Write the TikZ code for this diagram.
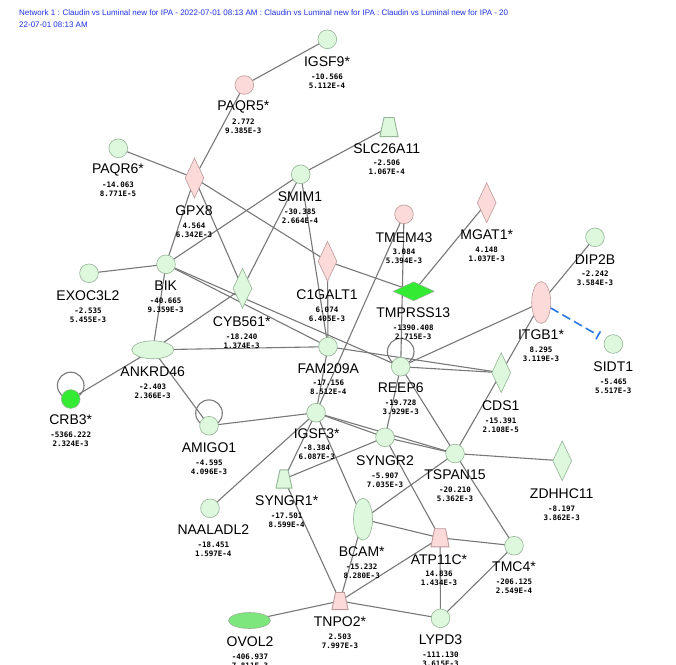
\documentclass[tikz,border=0pt]{standalone}
\usepackage{fontspec}
\setmainfont{Liberation Sans}
\newfontfamily\valfont{DejaVu Sans Mono}
\usetikzlibrary{shapes.geometric,arrows.meta}
\pgfdeclarelayer{bg}
\pgfdeclarelayer{paper}
\pgfsetlayers{paper,bg,main}
\definecolor{lg}{RGB}{222,248,222}
\definecolor{lgb}{RGB}{150,180,150}
\definecolor{pk}{RGB}{252,218,218}
\definecolor{pkb}{RGB}{190,155,155}
\definecolor{brg}{RGB}{50,235,50}
\definecolor{mdg}{RGB}{125,230,125}
\definecolor{edgec}{RGB}{120,120,120}
\definecolor{titleblue}{RGB}{30,50,230}
\definecolor{dashblue}{RGB}{40,120,230}
\begin{document}
\begin{tikzpicture}[x=1pt,y=-1pt,
  nd/.style={inner sep=0pt,line width=0.6pt},
  gfill/.style={nd,draw=lgb,fill=lg},
  pfill/.style={nd,draw=pkb,fill=pk},
  gc/.style={gfill,circle,minimum size=18.7pt},
  pc/.style={pfill,circle,minimum size=18.7pt},
  dia/.style={diamond,minimum width=19pt,minimum height=40pt},
  hdia/.style={diamond,minimum width=41pt,minimum height=19pt},
  vell/.style={ellipse,minimum width=19pt,minimum height=42pt},
  hell/.style={ellipse,minimum width=42pt,minimum height=18pt},
  trapbox/.style={rectangle,inner sep=0pt,minimum width=19pt,minimum height=19pt},
  gtrap/.style={trapbox,path picture={\filldraw[draw=lgb,fill=lg,line width=0.9pt]
     ([xshift=4.5pt,yshift=-0.4pt]path picture bounding box.north west) --
     ([xshift=-4.5pt,yshift=-0.4pt]path picture bounding box.north east) --
     ([xshift=-0.4pt,yshift=0.4pt]path picture bounding box.south east) --
     ([xshift=0.4pt,yshift=0.4pt]path picture bounding box.south west) -- cycle;}},
  ptrap/.style={trapbox,path picture={\filldraw[draw=pkb,fill=pk,line width=0.9pt]
     ([xshift=4pt,yshift=-0.4pt]path picture bounding box.north west) --
     ([xshift=-4pt,yshift=-0.4pt]path picture bounding box.north east) --
     ([xshift=-0.4pt,yshift=0.4pt]path picture bounding box.south east) --
     ([xshift=0.4pt,yshift=0.4pt]path picture bounding box.south west) -- cycle;}},
  lab/.style={inner sep=0pt,font=\fontsize{14}{14}\selectfont},
  val/.style={inner sep=0pt,font=\valfont\bfseries\fontsize{7.5}{7.5}\selectfont},
  e/.style={draw=edgec,line width=1.1pt},
  loopc/.style={draw=edgec,line width=1.1pt}]
\useasboundingbox (0,0) rectangle (676,664);
\begin{pgfonlayer}{paper}
\fill[white] (0,0) rectangle (676,664);
\end{pgfonlayer}
% title
\node[anchor=base west,inner sep=0pt,text=titleblue,font=\fontsize{8}{8}\selectfont] (title1) at (19,15) {Network 1 : Claudin vs Luminal new for IPA - 2022-07-01 08:13 AM : Claudin vs Luminal new for IPA : Claudin vs Luminal new for IPA - 20};
\node[anchor=base west,inner sep=0pt,text=titleblue,font=\fontsize{8}{8}\selectfont] (title2) at (19,27.5) {22-07-01 08:13 AM};
% nodes
\node[gc] (IGSF9) at (327.3,39.3) {};
\node[pc] (PAQR5) at (244.3,85) {};
\node[gtrap,minimum width=19pt,minimum height=20pt] (SLC26A11) at (389,127) {};
\node[gc] (PAQR6) at (118.3,148.3) {};
\node[pfill,dia] (GPX8) at (194.5,178) {};
\node[gc] (SMIM1) at (300.7,174.3) {};
\node[pc] (TMEM43) at (404,214.3) {};
\node[pfill,dia] (MGAT1) at (486.7,202.7) {};
\node[gc] (DIP2B) at (595,237.3) {};
\node[gc] (BIK) at (166,264.3) {};
\node[gc] (EXOC3L2) at (89,273.3) {};
\node[gfill,dia] (CYB561) at (242.5,288.3) {};
\node[pfill,dia] (C1GALT1) at (327.5,261.3) {};
\node[nd,draw=lgb,fill=brg,hdia] (TMPRSS13) at (413.7,291.3) {};
\node[pfill,vell] (ITGB1) at (541.2,302.5) {};
\node[gc] (SIDT1) at (613.3,344) {};
\node[gfill,hell] (ANKRD46) at (152.8,349.8) {};
\node[gc] (FAM209A) at (328,346.7) {};
\node[gc] (REEP6) at (400.7,366.7) {};
\node[gfill,dia] (CDS1) at (501.2,372.7) {};
\node[nd,draw=lgb,fill=brg,circle,minimum size=18.7pt] (CRB3) at (70.7,399) {};
\node[gc] (AMIGO1) at (209,425.7) {};
\node[gc] (IGSF3) at (316,412.7) {};
\node[gc] (SYNGR2) at (385,437.3) {};
\node[gc] (TSPAN15) at (455,453.5) {};
\node[gfill,dia] (ZDHHC11) at (562.2,460.8) {};
\node[gtrap,minimum width=17pt,minimum height=19pt] (SYNGR1) at (284,479) {};
\node[gc] (NAALADL2) at (210,508.3) {};
\node[gfill,vell] (BCAM) at (363,519.2) {};
\node[ptrap] (ATP11C) at (440,537.8) {};
\node[gc] (TMC4) at (514,545.7) {};
\node[ptrap,minimum width=17pt,minimum height=18pt] (TNPO2) at (340,601) {};
\node[nd,draw=lgb,fill=mdg,ellipse,minimum width=42pt,minimum height=16pt] (OVOL2) at (249.5,620.5) {};
\node[gc] (LYPD3) at (440.5,618.3) {};
% labels
\newcommand\glab[6]{%
  \node[lab] (#1l) at (#2,#3) {#4};
  \node[val] (#1a) at (#2,#3+14.8) {#5};
  \node[val] (#1b) at (#2,#3+23.8) {#6};}
\glab{IGSF9}{327}{61.7}{IGSF9*}{-10.566}{5.112E-4}
\glab{PAQR5}{243.3}{107.3}{PAQR5*}{2.772}{9.385E-3}
\glab{SLC26A11}{386.7}{148.3}{SLC26A11}{-2.506}{1.067E-4}
\glab{PAQR6}{118}{170}{PAQR6*}{-14.063}{8.771E-5}
\glab{GPX8}{194}{210.7}{GPX8}{4.564}{6.342E-3}
\glab{SMIM1}{300}{196.7}{SMIM1}{-30.385}{2.664E-4}
\glab{TMEM43}{404}{237.3}{TMEM43}{3.084}{5.394E-3}
\glab{MGAT1}{486.7}{235}{MGAT1*}{4.148}{1.037E-3}
\glab{DIP2B}{595}{259.3}{DIP2B}{-2.242}{3.584E-3}
\glab{BIK}{165.7}{286}{BIK}{-40.665}{9.359E-3}
\glab{EXOC3L2}{88}{295.5}{EXOC3L2}{-2.535}{5.455E-3}
\glab{CYB561}{241.7}{321.7}{CYB561*}{-18.240}{1.374E-3}
\glab{C1GALT1}{327}{295}{C1GALT1}{6.074}{6.405E-3}
\glab{TMPRSS13}{413.3}{312.7}{TMPRSS13}{-1390.408}{2.715E-3}
\glab{ITGB1}{541}{335}{ITGB1*}{8.295}{3.119E-3}
\glab{SIDT1}{613.3}{366.7}{SIDT1}{-5.465}{5.517E-3}
\glab{ANKRD46}{152.7}{371.7}{ANKRD46}{-2.403}{2.366E-3}
\glab{FAM209A}{328.3}{368.3}{FAM209A}{-17.156}{8.512E-4}
\glab{REEP6}{400.7}{387.7}{REEP6}{-19.728}{3.929E-3}
\glab{CDS1}{500.7}{406}{CDS1}{-15.391}{2.108E-5}
\glab{CRB3}{70.7}{420}{CRB3*}{-5366.222}{2.324E-3}
\glab{AMIGO1}{209}{447.7}{AMIGO1}{-4.595}{4.096E-3}
\glab{IGSF3}{316.7}{433.3}{IGSF3*}{-8.384}{6.087E-3}
\glab{SYNGR2}{385}{460.7}{SYNGR2}{-5.907}{7.035E-3}
\glab{TSPAN15}{455}{475}{TSPAN15}{-20.210}{5.362E-3}
\glab{ZDHHC11}{561.7}{494}{ZDHHC11}{-8.197}{3.862E-3}
\glab{SYNGR1}{286.7}{500.7}{SYNGR1*}{-17.501}{8.599E-4}
\glab{NAALADL2}{213.3}{530}{NAALADL2}{-18.451}{1.597E-4}
\glab{BCAM}{361.7}{551.7}{BCAM*}{-15.232}{8.280E-3}
\glab{ATP11C}{439}{559.3}{ATP11C*}{14.836}{1.434E-3}
\glab{TMC4}{514}{566.7}{TMC4*}{-206.125}{2.549E-4}
\glab{TNPO2}{340}{621.7}{TNPO2*}{2.503}{7.997E-3}
\glab{OVOL2}{250}{641.7}{OVOL2}{-406.937}{7.811E-3}
\glab{LYPD3}{440.5}{640}{LYPD3}{-111.130}{3.615E-3}
% edges
\begin{pgfonlayer}{bg}
\foreach \a/\b in {IGSF9/PAQR5,PAQR5/GPX8,SLC26A11/SMIM1,PAQR6/GPX8,GPX8/BIK,GPX8/CYB561,GPX8/C1GALT1,C1GALT1/TMPRSS13,SMIM1/BIK,SMIM1/CYB561,SMIM1/FAM209A,C1GALT1/FAM209A,BIK/EXOC3L2,BIK/ANKRD46,BIK/FAM209A,BIK/REEP6,CYB561/ANKRD46,ANKRD46/FAM209A,ANKRD46/CRB3,ANKRD46/AMIGO1,TMEM43/REEP6,TMEM43/IGSF3,MGAT1/TMPRSS13,REEP6/ITGB1,REEP6/CDS1,FAM209A/CDS1,FAM209A/IGSF3,ITGB1/DIP2B,ITGB1/CDS1,CDS1/TSPAN15,AMIGO1/IGSF3,IGSF3/SYNGR2,IGSF3/TSPAN15,IGSF3/NAALADL2,IGSF3/SYNGR1,IGSF3/BCAM,SYNGR1/SYNGR2,SYNGR1/TNPO2,REEP6/SYNGR2,REEP6/TSPAN15,SYNGR2/TSPAN15,SYNGR2/ATP11C,TSPAN15/ZDHHC11,TSPAN15/TMC4,TSPAN15/BCAM,BCAM/ATP11C,BCAM/TNPO2,ATP11C/TMC4,ATP11C/LYPD3,ATP11C/TNPO2,TMC4/LYPD3,TNPO2/LYPD3,TNPO2/OVOL2}
  \draw[e] (\a.center) -- (\b.center);
\draw[loopc] ([yshift=15pt]REEP6.center) circle[radius=13.3pt];
\draw[loopc] ([yshift=13.5pt]CRB3.center) circle[radius=13.3pt];
\draw[loopc] ([yshift=12.5pt]AMIGO1.center) circle[radius=13.3pt];
\end{pgfonlayer}
\draw[dashblue,line width=1.6pt,dash pattern=on 9pt off 4.5pt,-{Bar[width=9pt,line width=1.6pt]},shorten >=7pt] (ITGB1) -- (SIDT1);
\end{tikzpicture}
\end{document}
